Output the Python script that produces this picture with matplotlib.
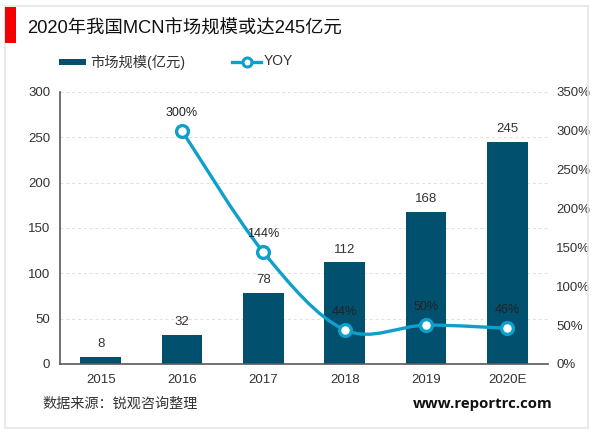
import numpy as np
import matplotlib
matplotlib.use('Agg')
import matplotlib.pyplot as plt
from matplotlib.patches import Rectangle, PathPatch
from matplotlib.path import Path
from matplotlib.lines import Line2D

plt.rcParams['font.family'] = ['Liberation Sans', 'Noto Sans CJK SC', 'DejaVu Sans']

years = ['2015', '2016', '2017', '2018', '2019', '2020E']
market = [8, 32, 78, 112, 168, 245]
yoy_years = [1, 2, 3, 4, 5]
yoy = [300, 144, 44, 50, 46]
left_ticks = [0, 50, 100, 150, 200, 250, 300]
right_ticks = [0, 50, 100, 150, 200, 250, 300, 350]

title = '2020年我国MCN市场规模或达245亿元'
source = '数据来源：锐观咨询整理'
site = 'www.reportrc.com'

BAR = '#00506e'
LINE = '#0f9fcb'
W, H = 600, 433


def fx(p):
    return p / W


def fy(p):
    return 1 - p / H


# bezier path through the points, same idea as the excel smooth line
def smooth_path(x, y, k=0.5):
    x = np.array(x, float)
    y = np.array(y, float)
    verts = [(x[0], y[0])]
    codes = [Path.MOVETO]
    for i in range(len(x) - 1):
        i0 = max(i - 1, 0)
        i3 = min(i + 2, len(x) - 1)
        verts.append((x[i] + (x[i + 1] - x[i0]) * k / 3, y[i] + (y[i + 1] - y[i0]) * k / 3))
        verts.append((x[i + 1] - (x[i3] - x[i]) * k / 3, y[i + 1] - (y[i3] - y[i]) * k / 3))
        verts.append((x[i + 1], y[i + 1]))
        codes += [Path.CURVE4] * 3
    return Path(verts, codes)


fig = plt.figure(figsize=(6, 4.33), dpi=100)
ax = fig.add_axes([fx(60), fy(364), fx(548 - 60), (364 - 92) / H])
ax2 = ax.twinx()

xs = np.arange(len(years))
ax.bar(xs, market, width=0.5, color=BAR, zorder=2)
for i, v in enumerate(market):
    ax.annotate(str(v), (i, v), xytext=(0, 5), textcoords='offset points',
                ha='center', va='bottom', fontsize=9.5, color='#333333')

ax.set_xlim(-0.5, 5.5)
ax.set_ylim(0, 300)
ax.set_xticks(xs)
ax.set_xticklabels(years)
ax.set_yticks(left_ticks)
ax.tick_params(axis='x', length=0, labelsize=9.5, labelcolor='#333333', pad=7.5)
ax.tick_params(axis='y', length=0, labelsize=9.5, labelcolor='#333333', pad=7)
ax.yaxis.grid(True, color='#dedede', linestyle=(0, (3, 3)), linewidth=0.7)
ax.set_axisbelow(True)

ax.spines['top'].set_visible(False)
ax.spines['right'].set_visible(False)
ax.spines['left'].set_color('#595959')
ax.spines['bottom'].set_color('#595959')
ax.spines['left'].set_linewidth(1.2)
ax.spines['bottom'].set_linewidth(1.2)

ax2.set_ylim(0, 350)
ax2.set_yticks(right_ticks)
ax2.set_yticklabels([f'{t}%' for t in right_ticks])
ax2.tick_params(axis='y', length=0, labelsize=9.5, labelcolor='#333333', pad=6)
for s in ax2.spines.values():
    s.set_visible(False)

ax2.add_patch(PathPatch(smooth_path(yoy_years, yoy), fill=False, edgecolor=LINE, linewidth=2.4, zorder=3))
ax2.plot(yoy_years, yoy, linestyle='none', marker='o', markersize=8.5, markerfacecolor='white',
         markeredgecolor=LINE, markeredgewidth=2.4, zorder=4)
for x, v in zip(yoy_years, yoy):
    ax2.annotate(f'{v}%', (x, v), xytext=(0, 8.5), textcoords='offset points',
                 ha='center', va='bottom', fontsize=9, color='#222222', zorder=5)

# outer frame and red block
fig.add_artist(Rectangle((fx(5), fy(428)), fx(583), (428 - 6) / H, fill=False,
                         edgecolor='#e6e6e6', linewidth=1.2))
fig.add_artist(Rectangle((fx(5), fy(43)), fx(11), 36 / H, color='#f50000', linewidth=0))

fig.text(fx(27), fy(29), title, fontsize=13.2, color='#111111', va='center', ha='left')

# legend
fig.add_artist(Rectangle((fx(59), fy(65)), fx(27), 6 / H, color=BAR, linewidth=0))
fig.text(fx(90), fy(62), '市场规模(亿元)', fontsize=10.3, color='#333333', va='center', ha='left')
fig.add_artist(Line2D([fx(232), fx(261)], [fy(62), fy(62)], color=LINE, linewidth=2.4,
                      transform=fig.transFigure))
fig.add_artist(Line2D([fx(246.5)], [fy(62)], linestyle='none', marker='o', markersize=6.5,
                      markerfacecolor='white', markeredgecolor=LINE, markeredgewidth=2.2,
                      transform=fig.transFigure))
fig.text(fx(264), fy(61), 'YOY', fontsize=10, color='#333333', va='center', ha='left')

fig.text(fx(42), fy(404), source, fontsize=10.2, color='#333333', va='center', ha='left')
fig.text(fx(413), fy(404), site, fontsize=10.8, color='#111111', fontweight='bold',
         family=['Open Sans', 'DejaVu Sans'], va='center', ha='left')

fig.savefig('out.png', dpi=100)
